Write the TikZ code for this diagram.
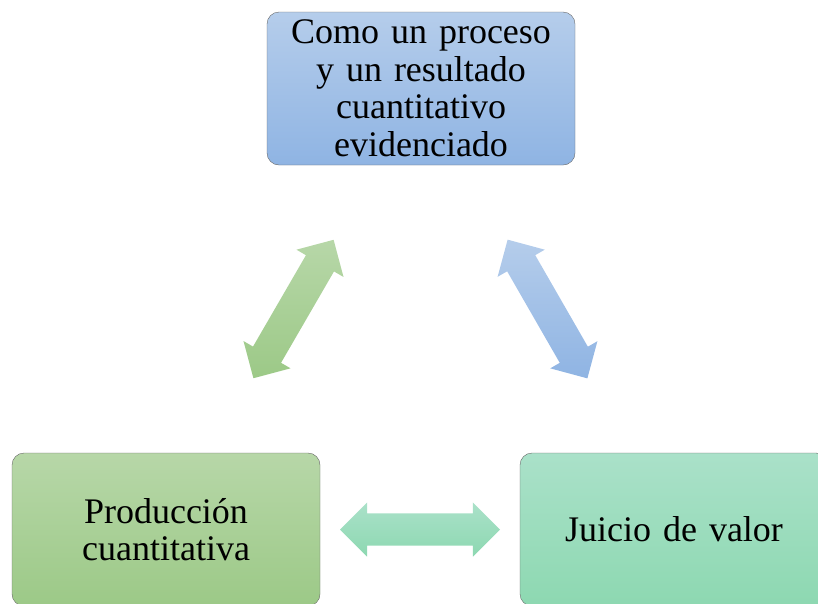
\documentclass[tikz,border=0pt]{standalone}
\usepackage{fontspec}
\setmainfont{Liberation Serif}
\usetikzlibrary{calc,shapes.arrows}

\definecolor{azularriba}{RGB}{181,205,235}
\definecolor{azulabajo}{RGB}{143,180,227}
\definecolor{verdearriba}{RGB}{183,215,168}
\definecolor{verdeabajo}{RGB}{156,201,135}
\definecolor{aguaarriba}{RGB}{170,225,201}
\definecolor{aguaabajo}{RGB}{141,216,177}

\begin{document}
\begin{tikzpicture}[x=1pt,y=-1pt,
    caja/.style={draw=black!60, rounded corners=12pt, minimum width=308pt,
        minimum height=153pt, text width=296pt, align=center, inner sep=0pt,
        font=\fontsize{36}{37.5}\selectfont},
    flecha/.style={double arrow, sloped, minimum height=160pt, minimum width=54pt,
        double arrow head extend=11pt, double arrow tip angle=90,
        inner xsep=0pt, inner ysep=16pt}]
    \useasboundingbox (0,0) rectangle (818,603);
    % cajas
    \node[caja, top color=azularriba, bottom color=azulabajo] (proceso) at (421,88.5)
        {Como un proceso\\ y un resultado\\ cuantitativo\\ evidenciado};
    \node[caja, top color=verdearriba, bottom color=verdeabajo] (produccion) at (166,529.5)
        {Producci\'on\\ cuantitativa};
    \node[caja, top color=aguaarriba, bottom color=aguaabajo] (juicio) at (674,529.5)
        {Juicio de valor};
    % flechas
    \path (produccion) -- node[flecha, shading angle=-60, top color=verdearriba,
        bottom color=verdeabajo] (fverde) {} (proceso);
    \path (proceso) -- node[flecha, shading angle=60, top color=azularriba,
        bottom color=azulabajo] (fazul) {} (juicio);
    \path (produccion) -- node[flecha, top color=aguaarriba,
        bottom color=aguaabajo] (fagua) {} (juicio);
\end{tikzpicture}
\end{document}
